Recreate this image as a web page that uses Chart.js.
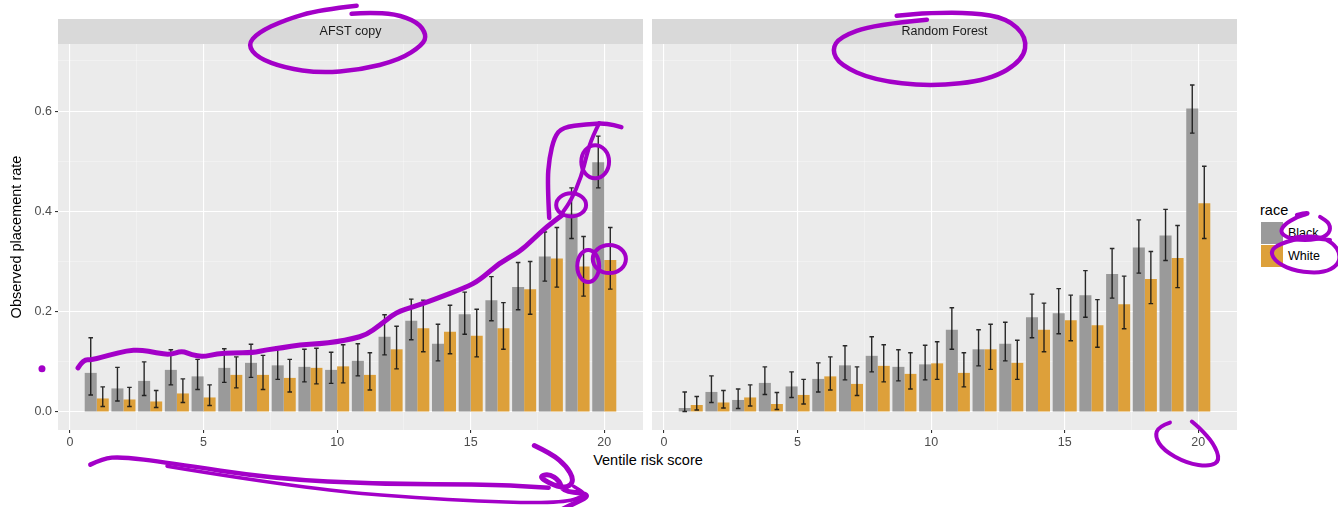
<!DOCTYPE html>
<html>
<head>
<meta charset="utf-8">
<script src="https://cdn.jsdelivr.net/npm/chart.js"></script>
<style>
  body { margin: 0; background: #fff; width: 1338px; height: 507px; overflow: hidden; position: relative;
         font-family: "Liberation Sans", Arial, sans-serif; }
  canvas { position: absolute; top: 0; z-index: 1; }
  #c1 { left: 0; }
  #c2 { left: 648px; }
  #xtitle { position: absolute; left: 548px; width: 200px; top: 451px; text-align: center;
            font-size: 14.5px; line-height: 18px; color: #000; }
  #legend { position: absolute; left: 1260px; top: 201px; z-index: 0; }
  #legend .ttl { font-size: 14.5px; line-height: 18px; color: #000; margin-left: 0; }
  #legend .row { position: relative; height: 23px; }
  #legend .key { position: absolute; left: 1px; top: 0; width: 22px; height: 22px; }
  #legend .lab { position: absolute; left: 28px; top: 3px; font-size: 12.5px; line-height: 16px; color: #000; }
</style>
</head>
<body>
<canvas id="c1" width="648" height="507"></canvas>
<canvas id="c2" width="690" height="507"></canvas>
<div id="xtitle">Ventile risk score</div>
<div id="legend"></div>
<script>
// ventiles 1..20, two models, observed rate + CI by race
const ventiles = [1, 2, 3, 4, 5, 6, 7, 8, 9, 10, 11, 12, 13, 14, 15, 16, 17, 18, 19, 20];
const raceNames = ["Black", "White"];
const raceColors = ["#9a9a9a", "#dda03a"];
const panelTitles = ["AFST copy", "Random Forest"];

const afstBlack   = [0.078, 0.047, 0.062, 0.084, 0.071, 0.088, 0.098, 0.093, 0.090, 0.084, 0.102, 0.150, 0.182, 0.136, 0.195, 0.223, 0.249, 0.310, 0.396, 0.498];
const afstBlackLo = [0.034, 0.022, 0.033, 0.054, 0.045, 0.059, 0.069, 0.065, 0.060, 0.057, 0.072, 0.114, 0.144, 0.102, 0.155, 0.182, 0.204, 0.261, 0.346, 0.447];
const afstBlackHi = [0.148, 0.089, 0.100, 0.124, 0.105, 0.126, 0.135, 0.130, 0.125, 0.119, 0.136, 0.194, 0.225, 0.175, 0.239, 0.270, 0.298, 0.359, 0.447, 0.550];
const afstWhite   = [0.027, 0.025, 0.021, 0.037, 0.029, 0.074, 0.074, 0.068, 0.088, 0.091, 0.074, 0.125, 0.167, 0.160, 0.152, 0.167, 0.245, 0.306, 0.290, 0.303];
const afstWhiteLo = [0.011, 0.011, 0.009, 0.019, 0.013, 0.048, 0.045, 0.040, 0.056, 0.058, 0.044, 0.086, 0.120, 0.116, 0.110, 0.125, 0.195, 0.249, 0.231, 0.245];
const afstWhiteHi = [0.050, 0.049, 0.043, 0.066, 0.054, 0.110, 0.113, 0.105, 0.127, 0.134, 0.118, 0.171, 0.223, 0.213, 0.205, 0.218, 0.300, 0.368, 0.350, 0.368];

const rfBlack   = [0.008, 0.040, 0.024, 0.058, 0.051, 0.066, 0.093, 0.112, 0.090, 0.095, 0.164, 0.125, 0.136, 0.189, 0.197, 0.233, 0.275, 0.328, 0.352, 0.605];
const rfBlackLo = [0.001, 0.019, 0.007, 0.035, 0.029, 0.040, 0.064, 0.080, 0.062, 0.064, 0.125, 0.092, 0.102, 0.148, 0.156, 0.189, 0.227, 0.277, 0.302, 0.556];
const rfBlackHi = [0.040, 0.072, 0.046, 0.090, 0.080, 0.098, 0.132, 0.150, 0.124, 0.133, 0.208, 0.164, 0.179, 0.235, 0.246, 0.282, 0.326, 0.383, 0.404, 0.652];
const rfWhite   = [0.014, 0.019, 0.029, 0.016, 0.034, 0.071, 0.056, 0.092, 0.076, 0.097, 0.078, 0.125, 0.098, 0.164, 0.183, 0.173, 0.215, 0.265, 0.307, 0.416];
const rfWhiteLo = [0.004, 0.008, 0.012, 0.005, 0.016, 0.044, 0.033, 0.060, 0.046, 0.065, 0.050, 0.085, 0.065, 0.120, 0.142, 0.129, 0.166, 0.216, 0.248, 0.346];
const rfWhiteHi = [0.031, 0.043, 0.054, 0.039, 0.065, 0.110, 0.090, 0.134, 0.118, 0.140, 0.118, 0.175, 0.143, 0.217, 0.233, 0.224, 0.271, 0.320, 0.372, 0.490];

const xTicks = [0, 5, 10, 15, 20];
const xGrid = [0, 2.5, 5, 7.5, 10, 12.5, 15, 17.5, 20];
const yTicks = [0, 0.2, 0.4, 0.6];
const yGrid = [0, 0.1, 0.2, 0.3, 0.4, 0.5, 0.6, 0.7];

// hand-drawn purple marks on the picture, in each panel's data units
const inkLeft = {
  lines: [
    { w: 4.5, pts: [[10.73,0.810],[9.35,0.802],[8.04,0.782],[7.03,0.756],[6.65,0.732],[7.03,0.706],[8.04,0.686],[9.35,0.676],[10.84,0.682],[12.34,0.702],[13.20,0.732],[13.35,0.752],[13.01,0.778],[12.15,0.794],[11.21,0.796],[10.54,0.794]] },
    { w: 5, pts: [[0.30,0.088],[0.49,0.104],[0.82,0.104],[1.50,0.114],[2.13,0.122],[2.62,0.124],[3.25,0.118],[3.74,0.114],[4.19,0.122],[4.56,0.114],[4.97,0.110],[5.50,0.116],[6.09,0.118],[6.84,0.118],[7.36,0.124],[7.96,0.128],[8.60,0.134],[9.35,0.136],[9.98,0.140],[10.58,0.146],[11.10,0.154],[11.59,0.173],[12.22,0.199],[12.82,0.209],[13.57,0.223],[14.84,0.249],[15.33,0.263],[16.07,0.297],[16.82,0.319],[17.31,0.343],[17.83,0.369],[18.43,0.393]] },
    { w: 4.5, pts: [[17.94,0.387],[17.87,0.457],[17.94,0.506],[18.13,0.548],[18.43,0.568],[19.33,0.574],[20.07,0.576],[20.64,0.568]] },
    { w: 4, pts: [[19.81,0.576],[19.55,0.548],[19.36,0.516],[19.14,0.469],[18.77,0.423],[18.43,0.397]] },
    { w: 4.5, pts: [[0.76,-0.105],[1.23,-0.093],[1.90,-0.089],[3.63,-0.101],[7.64,-0.133],[11.64,-0.144],[15.65,-0.144],[17.92,-0.151]] },
    { w: 3.5, pts: [[3.63,-0.108],[8.97,-0.155],[14.31,-0.176],[18.32,-0.183],[19.39,-0.166],[18.85,-0.148]] },
    { w: 5, pts: [[17.38,-0.067],[18.05,-0.084],[18.58,-0.108],[18.85,-0.133],[18.72,-0.148],[18.32,-0.151],[17.52,-0.130],[17.92,-0.123],[18.32,-0.137],[18.45,-0.158],[19.25,-0.162],[19.39,-0.169],[18.85,-0.183],[18.32,-0.197]] }
  ],
  rings: [[19.66, 0.499, 0.52, 0.033], [18.76, 0.413, 0.56, 0.023], [19.40, 0.291, 0.41, 0.032], [20.19, 0.305, 0.62, 0.028]],
  dots: [[-1.05, 0.086, 3.5]]
};
const inkRight = {
  lines: [
    { w: 4.5, pts: [[9.84,0.782],[7.84,0.772],[6.59,0.748],[6.28,0.722],[6.59,0.692],[7.84,0.662],[9.96,0.649],[12.21,0.662],[13.45,0.702],[13.58,0.748],[12.83,0.785],[11.58,0.796],[9.96,0.796],[8.71,0.790]] },
    { w: 4, pts: [[18.94,-0.021],[18.51,-0.029],[18.38,-0.049],[18.69,-0.076],[19.57,-0.102],[20.44,-0.109],[20.82,-0.096],[20.57,-0.062],[20.07,-0.033],[19.76,-0.019]] },
    { w: 4, pts: [[23.69,0.393],[24.06,0.399],[24.12,0.395],[23.69,0.389],[23.19,0.373],[23.06,0.356],[23.56,0.343],[24.44,0.343],[24.93,0.356],[24.93,0.376],[24.56,0.389]] },
    { w: 4, pts: [[24.93,0.343],[24.06,0.350],[23.06,0.336],[22.68,0.320],[22.94,0.297],[23.69,0.280],[24.68,0.277],[25.24,0.293],[25.31,0.316],[25.06,0.336],[24.56,0.350],[23.69,0.350],[23.44,0.343]] }
  ],
  rings: [],
  dots: []
};

Chart.defaults.font.family = '"Liberation Sans", Arial, sans-serif';

const isMajor = (v, list) => list.some(t => Math.abs(t - v) < 1e-6);

const panelBg = (title) => ({
  id: "panelBg",
  beforeDraw(chart) {
    const { ctx, chartArea: a } = chart;
    ctx.save();
    ctx.fillStyle = "#ebebeb";
    ctx.fillRect(a.left, a.top, a.right - a.left, a.bottom - a.top);
    ctx.fillStyle = "#d9d9d9";
    ctx.fillRect(a.left, a.top - 25, a.right - a.left, 25);
    ctx.fillStyle = "#1a1a1a";
    ctx.font = '12.5px "Liberation Sans", Arial, sans-serif';
    ctx.textAlign = "center";
    ctx.textBaseline = "middle";
    ctx.fillText(title, (a.left + a.right) / 2, a.top - 12.5);
    ctx.restore();
  }
});

const errorBars = {
  id: "errorBars",
  afterDatasetsDraw(chart) {
    const { ctx } = chart;
    const y = chart.scales.y;
    chart.data.datasets.forEach((ds, di) => {
      chart.getDatasetMeta(di).data.forEach((bar, i) => {
        const top = y.getPixelForValue(ds.errHi[i]);
        const bot = y.getPixelForValue(ds.errLo[i]);
        const cap = bar.width * 0.19;
        ctx.save();
        ctx.strokeStyle = "rgba(20,20,20,0.9)";
        ctx.lineWidth = 1.4;
        ctx.beginPath();
        ctx.moveTo(bar.x, top); ctx.lineTo(bar.x, bot);
        ctx.moveTo(bar.x - cap, top); ctx.lineTo(bar.x + cap, top);
        ctx.moveTo(bar.x - cap, bot); ctx.lineTo(bar.x + cap, bot);
        ctx.stroke();
        ctx.restore();
      });
    });
  }
};

const inkPlugin = (ink) => ({
  id: "ink",
  afterDraw(chart) {
    const { ctx } = chart;
    const { x, y } = chart.scales;
    ctx.save();
    ctx.strokeStyle = "#a300c8";
    ctx.fillStyle = "#a300c8";
    ctx.lineCap = "round";
    ctx.lineJoin = "round";
    ink.lines.forEach(l => {
      const p = l.pts.map(d => [x.getPixelForValue(d[0]), y.getPixelForValue(d[1])]);
      ctx.lineWidth = l.w;
      ctx.beginPath();
      ctx.moveTo(p[0][0], p[0][1]);
      for (let i = 1; i < p.length - 1; i++) {
        ctx.quadraticCurveTo(p[i][0], p[i][1], (p[i][0] + p[i + 1][0]) / 2, (p[i][1] + p[i + 1][1]) / 2);
      }
      ctx.lineTo(p[p.length - 1][0], p[p.length - 1][1]);
      ctx.stroke();
    });
    ink.rings.forEach(r => {
      const cx = x.getPixelForValue(r[0]), cy = y.getPixelForValue(r[1]);
      const rx = Math.abs(x.getPixelForValue(r[0] + r[2]) - cx);
      const ry = Math.abs(y.getPixelForValue(r[1] + r[3]) - cy);
      ctx.lineWidth = 4;
      ctx.beginPath();
      ctx.ellipse(cx, cy, rx, ry, 0, 0, Math.PI * 2);
      ctx.stroke();
    });
    ink.dots.forEach(d => {
      ctx.beginPath();
      ctx.arc(x.getPixelForValue(d[0]), y.getPixelForValue(d[1]), d[2], 0, Math.PI * 2);
      ctx.fill();
    });
    ctx.restore();
  }
});

function makePanel(id, title, series, showY, padRight, ink) {
  const tickVal = (c) => (c && c.tick ? c.tick.value : NaN);
  const gridColor = (list) => (c) => isMajor(tickVal(c), list) ? "#ffffff" : "rgba(255,255,255,0.55)";
  const gridWidth = (list) => (c) => isMajor(tickVal(c), list) ? 1.1 : 0.6;
  const tickColor = (list) => (c) => isMajor(tickVal(c), list) ? "#333333" : "rgba(0,0,0,0)";
  return new Chart(document.getElementById(id), {
    type: "bar",
    data: {
      datasets: series.map((s, k) => ({
        label: raceNames[k],
        data: ventiles.map((v, i) => ({ x: v, y: s.val[i] })),
        errLo: s.lo,
        errHi: s.hi,
        backgroundColor: raceColors[k],
        borderWidth: 0,
        categoryPercentage: 0.9,
        barPercentage: 1.0
      }))
    },
    options: {
      responsive: false,
      animation: false,
      events: [],
      layout: { padding: { top: 44, right: padRight, left: 0, bottom: 0 } },
      plugins: { legend: { display: false }, tooltip: { enabled: false } },
      scales: {
        x: {
          type: "linear",
          min: -0.45,
          max: 21.45,
          offset: false,
          afterBuildTicks: (s) => { s.ticks = xGrid.map(v => ({ value: v })); },
          afterFit: (s) => { s.height = 77; },
          border: { display: false },
          grid: { offset: false, color: gridColor(xTicks), lineWidth: gridWidth(xTicks), tickLength: 3, tickColor: tickColor(xTicks) },
          ticks: {
            autoSkip: false, maxRotation: 0, padding: 2, color: "#4d4d4d", font: { size: 12.5 },
            callback: (v) => isMajor(v, xTicks) ? String(v) : ""
          }
        },
        y: {
          min: -0.0359,
          max: 0.7338,
          afterBuildTicks: (s) => { s.ticks = yGrid.map(v => ({ value: v })); },
          afterFit: (s) => { s.width = showY ? 58 : 4; },
          border: { display: false },
          grid: { offset: false, color: gridColor(yTicks), lineWidth: gridWidth(yTicks), tickLength: 3, drawTicks: showY, tickColor: tickColor(yTicks) },
          ticks: {
            display: showY, padding: 3, color: "#4d4d4d", font: { size: 12.5 },
            callback: (v) => isMajor(v, yTicks) ? v.toFixed(1) : ""
          },
          title: {
            display: showY, text: "Observed placement rate", color: "#000",
            font: { size: 14.5 }, padding: { top: 8, bottom: 0 }
          }
        }
      }
    },
    plugins: [panelBg(title), errorBars, inkPlugin(ink)]
  });
}

makePanel("c1", panelTitles[0], [
  { val: afstBlack, lo: afstBlackLo, hi: afstBlackHi },
  { val: afstWhite, lo: afstWhiteLo, hi: afstWhiteHi }
], true, 5, inkLeft);

makePanel("c2", panelTitles[1], [
  { val: rfBlack, lo: rfBlackLo, hi: rfBlackHi },
  { val: rfWhite, lo: rfWhiteLo, hi: rfWhiteHi }
], false, 101, inkRight);

// legend
const legend = document.getElementById("legend");
let html = '<div class="ttl">race</div><div style="height:3px"></div>';
raceNames.forEach((n, k) => {
  html += '<div class="row"><span class="key" style="background:' + raceColors[k] + '"></span><span class="lab">' + n + '</span></div>';
});
legend.innerHTML = html;
</script>
</body>
</html>
